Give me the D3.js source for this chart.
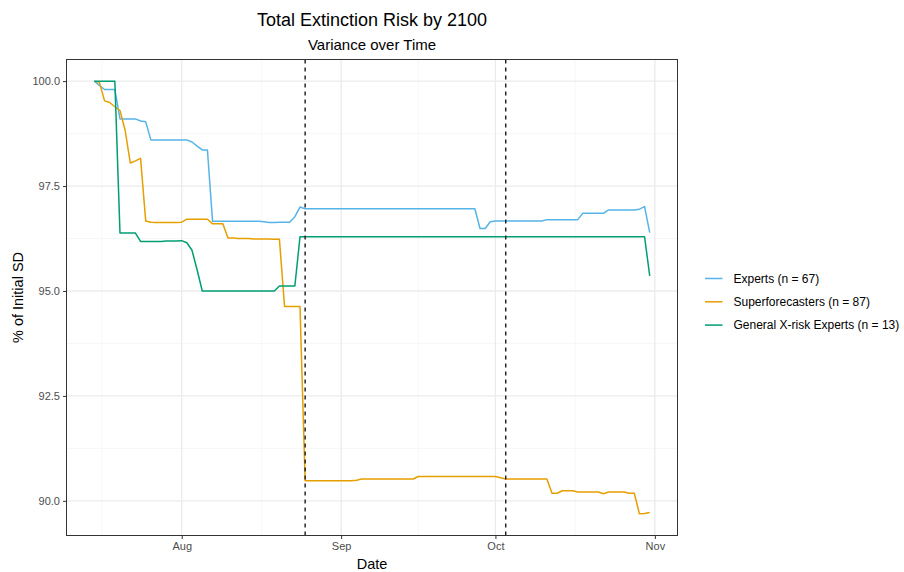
<!DOCTYPE html>
<html>
<head>
<meta charset="utf-8">
<script src="https://cdn.jsdelivr.net/npm/d3@7"></script>
<style>
  html, body { margin: 0; padding: 0; background: #fff; }
  svg { display: block; font-family: "Liberation Sans", Arial, sans-serif; }
</style>
</head>
<body>
<div id="chart"></div>
<script>
// ====================
// Data (one value per day, starting Jul 15)
// ====================
const startDate = new Date(Date.UTC(2022, 6, 15));

const expertsValues = [
    100, 99.9, 99.8, 99.8, 99.8, 99.1, 99.1, 99.1, 99.1, 99.05, 99.03,
    98.6, 98.6, 98.6, 98.6, 98.6, 98.6, 98.6, 98.6, 98.55, 98.45, 98.36, 98.36,
    96.66, 96.66, 96.66, 96.66, 96.66, 96.66, 96.66, 96.66, 96.66, 96.66,
    96.65, 96.63, 96.63, 96.64, 96.64, 96.64, 96.77, 97.0,
    96.96, 96.96, 96.96, 96.96, 96.96, 96.96, 96.96, 96.96, 96.96, 96.96,
    96.96, 96.96, 96.96, 96.96, 96.96, 96.96, 96.96, 96.96, 96.96, 96.96,
    96.96, 96.96, 96.96, 96.96, 96.96, 96.96, 96.96, 96.96, 96.96, 96.96,
    96.96, 96.96, 96.96, 96.96,
    96.49, 96.49, 96.65,
    96.67, 96.67, 96.67, 96.67, 96.67, 96.67, 96.67, 96.67, 96.67, 96.67,
    96.7, 96.7, 96.7, 96.7, 96.7, 96.7, 96.7,
    96.85, 96.85, 96.85, 96.85, 96.85,
    96.93, 96.93, 96.93, 96.93, 96.93, 96.93,
    96.95, 97.01, 96.39
];

const superValues = [
    100, 99.97, 99.53, 99.49, 99.39, 99.3, 98.83, 98.05, 98.1, 98.16,
    96.67, 96.64, 96.63, 96.63, 96.63, 96.63, 96.63, 96.64,
    96.71, 96.71, 96.71, 96.71, 96.71, 96.6, 96.6, 96.6,
    96.26, 96.26, 96.25, 96.25, 96.25, 96.24, 96.24, 96.24, 96.24, 96.23, 96.23,
    94.63, 94.63, 94.63, 94.63,
    90.48, 90.48, 90.48, 90.48, 90.48, 90.48, 90.48, 90.48, 90.48, 90.48,
    90.49,
    90.52, 90.52, 90.52, 90.52, 90.52, 90.52, 90.52, 90.52, 90.52, 90.52, 90.52,
    90.58, 90.58, 90.58, 90.58, 90.58, 90.58, 90.58, 90.58,
    90.58, 90.58, 90.58, 90.58, 90.58, 90.58, 90.58, 90.58,
    90.55,
    90.52, 90.52, 90.52, 90.52, 90.52, 90.52, 90.52, 90.52, 90.52,
    90.18, 90.18, 90.24, 90.24, 90.24,
    90.21, 90.21, 90.21, 90.21, 90.21, 90.17,
    90.21, 90.21, 90.21, 90.21, 90.18, 90.18,
    89.69, 89.7, 89.72
];

const generalValues = [
    100, 100, 100, 100, 100,
    96.38, 96.38, 96.38, 96.38,
    96.18, 96.18, 96.18, 96.18, 96.18, 96.19, 96.19, 96.19,
    96.2, 96.15, 95.97, 95.5, 95.0,
    95.0, 95.0, 95.0, 95.0, 95.0, 95.0, 95.0, 95.0, 95.0, 95.0, 95.0, 95.0, 95.0, 95.0,
    95.12, 95.12, 95.12, 95.12,
    96.29, 96.29, 96.29, 96.29, 96.29, 96.29, 96.29, 96.29, 96.29, 96.29,
    96.29, 96.29, 96.29, 96.29, 96.29, 96.29, 96.29, 96.29, 96.29, 96.29,
    96.29, 96.29, 96.29, 96.29, 96.29, 96.29, 96.29, 96.29, 96.29, 96.29,
    96.29, 96.29, 96.29, 96.29, 96.29, 96.29, 96.29, 96.29, 96.29, 96.29,
    96.29, 96.29, 96.29, 96.29, 96.29, 96.29, 96.29, 96.29, 96.29, 96.29,
    96.29, 96.29, 96.29, 96.29, 96.29, 96.29, 96.29, 96.29, 96.29, 96.29,
    96.29, 96.29, 96.29, 96.29, 96.29, 96.29, 96.29, 96.29,
    95.36
];

const seriesNames  = ["Experts (n = 67)", "Superforecasters (n = 87)", "General X-risk Experts (n = 13)"];
const seriesColors = ["#56B4E9", "#E69F00", "#009E73"];

const vlineDates = [new Date(Date.UTC(2022, 7, 25)), new Date(Date.UTC(2022, 9, 3))];
const xTickDates = [new Date(Date.UTC(2022, 7, 1)), new Date(Date.UTC(2022, 8, 1)),
                    new Date(Date.UTC(2022, 9, 1)), new Date(Date.UTC(2022, 10, 1))];
const xMinorDates = [new Date(Date.UTC(2022, 6, 16, 12)), new Date(Date.UTC(2022, 7, 16, 12)),
                     new Date(Date.UTC(2022, 8, 16)), new Date(Date.UTC(2022, 9, 16, 12))];
const yTicks = [90, 92.5, 95, 97.5, 100];
const yMinor = [91.25, 93.75, 96.25, 98.75];

// ====================
// Build chart
// ====================
function createChart() {
    const width = 904, height = 572;
    const panel = { left: 66.5, right: 677.5, top: 59.5, bottom: 535.5 };

    const toRows = vals => vals.map((v, i) => ({ date: d3.utcDay.offset(startDate, i), value: v }));
    const series = [expertsValues, superValues, generalValues].map((vals, i) => ({
        name: seriesNames[i], color: seriesColors[i], rows: toRows(vals)
    }));

    const svg = d3.select("#chart").append("svg")
        .attr("width", width)
        .attr("height", height);

    // ggplot-style 5% expansion of the data range
    const allRows = series.flatMap(s => s.rows);
    const [d0, d1] = d3.extent(allRows, d => d.date);
    const pad = (d1 - d0) * 0.05;
    const x = d3.scaleUtc()
        .domain([new Date(+d0 - pad), new Date(+d1 + pad)])
        .range([panel.left, panel.right]);

    const [v0, v1] = d3.extent(allRows, d => d.value);
    const vpad = (v1 - v0) * 0.05;
    const y = d3.scaleLinear()
        .domain([v0 - vpad, v1 + vpad])
        .range([panel.bottom, panel.top]);

    // grid
    const grid = svg.append("g");
    grid.selectAll(".ymin").data(yMinor).join("line")
        .attr("x1", panel.left).attr("x2", panel.right)
        .attr("y1", d => y(d)).attr("y2", d => y(d))
        .attr("stroke", "#F3F3F3").attr("stroke-width", 0.7);
    grid.selectAll(".xmin").data(xMinorDates).join("line")
        .attr("y1", panel.top).attr("y2", panel.bottom)
        .attr("x1", d => x(d)).attr("x2", d => x(d))
        .attr("stroke", "#F3F3F3").attr("stroke-width", 0.7);
    grid.selectAll(".ymaj").data(yTicks).join("line")
        .attr("x1", panel.left).attr("x2", panel.right)
        .attr("y1", d => y(d)).attr("y2", d => y(d))
        .attr("stroke", "#EBEBEB").attr("stroke-width", 1.3);
    grid.selectAll(".xmaj").data(xTickDates).join("line")
        .attr("y1", panel.top).attr("y2", panel.bottom)
        .attr("x1", d => x(d)).attr("x2", d => x(d))
        .attr("stroke", "#EBEBEB").attr("stroke-width", 1.3);

    // lines
    const line = d3.line().x(d => x(d.date)).y(d => y(d.value));
    svg.append("g").selectAll("path").data(series).join("path")
        .attr("d", d => line(d.rows))
        .attr("fill", "none")
        .attr("stroke", d => d.color)
        .attr("stroke-width", 1.5)
        .attr("stroke-linejoin", "round");

    // dashed reference lines
    svg.append("g").selectAll("line").data(vlineDates).join("line")
        .attr("x1", d => x(d)).attr("x2", d => x(d))
        .attr("y1", panel.top).attr("y2", panel.bottom)
        .attr("stroke", "#1a1a1a")
        .attr("stroke-width", 1.4)
        .attr("stroke-dasharray", "4,4");

    // panel border
    svg.append("rect")
        .attr("x", panel.left).attr("y", panel.top)
        .attr("width", panel.right - panel.left)
        .attr("height", panel.bottom - panel.top)
        .attr("fill", "none")
        .attr("stroke", "#333333")
        .attr("stroke-width", 1);

    // axes
    const xAxis = svg.append("g")
        .attr("transform", `translate(0,${panel.bottom})`)
        .call(d3.axisBottom(x).tickValues(xTickDates).tickFormat(d3.utcFormat("%b")).tickSize(3.5).tickPadding(3));
    const yAxis = svg.append("g")
        .attr("transform", `translate(${panel.left},0)`)
        .call(d3.axisLeft(y).tickValues(yTicks).tickFormat(d3.format(".1f")).tickSize(3.5).tickPadding(3));
    [xAxis, yAxis].forEach(a => {
        a.select(".domain").remove();
        a.selectAll(".tick line").attr("stroke", "#333333").attr("stroke-width", 1);
        a.selectAll(".tick text")
            .attr("fill", "#4D4D4D")
            .style("font-size", "11px")
            .style("font-family", "'Liberation Sans', Arial, sans-serif");
    });

    // axis titles
    svg.append("text")
        .attr("x", (panel.left + panel.right) / 2).attr("y", 569)
        .attr("text-anchor", "middle")
        .style("font-size", "14.5px")
        .text("Date");
    svg.append("text")
        .attr("transform", `translate(23,${(panel.top + panel.bottom) / 2}) rotate(-90)`)
        .attr("text-anchor", "middle")
        .style("font-size", "14.5px")
        .text("% of Initial SD");

    // titles
    svg.append("text")
        .attr("x", (panel.left + panel.right) / 2).attr("y", 26)
        .attr("text-anchor", "middle")
        .style("font-size", "18px")
        .text("Total Extinction Risk by 2100");
    svg.append("text")
        .attr("x", (panel.left + panel.right) / 2).attr("y", 50)
        .attr("text-anchor", "middle")
        .style("font-size", "15px")
        .text("Variance over Time");

    // legend
    const legend = svg.append("g").attr("transform", "translate(705,278.5)");
    const items = legend.selectAll("g").data(series).join("g")
        .attr("transform", (d, i) => `translate(0,${i * 23.3})`);
    items.append("line")
        .attr("x1", 0).attr("x2", 17.5)
        .attr("stroke", d => d.color)
        .attr("stroke-width", 1.5);
    items.append("text")
        .attr("x", 28.5).attr("y", 4)
        .style("font-size", "12px")
        .text(d => d.name);

    console.log("Chart drawn with", allRows.length, "points");
}

document.addEventListener("DOMContentLoaded", createChart);
</script>
</body>
</html>
